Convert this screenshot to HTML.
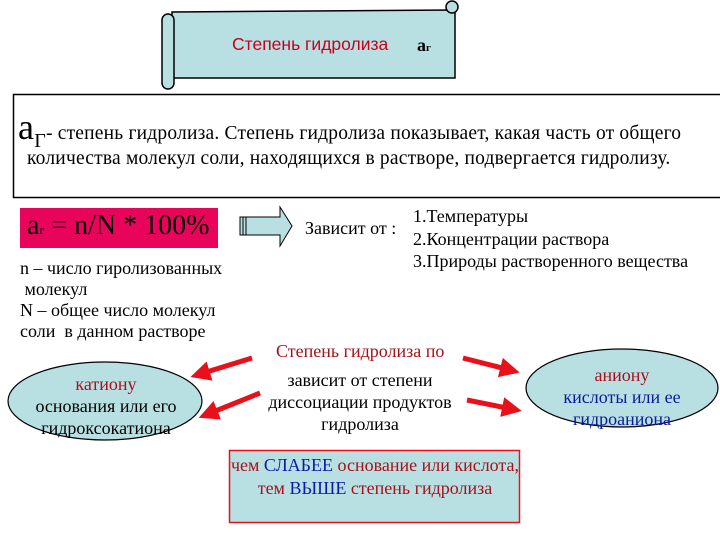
<!DOCTYPE html>
<html><head><meta charset="utf-8"><style>
body{margin:0;width:720px;height:540px;background:#fff;position:relative;overflow:hidden;font-family:"Liberation Serif","DejaVu Serif",serif;}
.t{position:absolute;white-space:nowrap;font-family:"Liberation Serif","DejaVu Serif",serif;}
svg{position:absolute;left:0;top:0;}
</style></head><body>
<svg width="720" height="540">
<defs><marker id="ah" markerWidth="4" markerHeight="4" refX="2" refY="2" orient="auto" markerUnits="strokeWidth"><path d="M0,0 L4,2 L0,4 z" fill="#e8101a"/></marker></defs>
<path d="M172,12 L455,10 L455,78 L172,78 z" fill="#b8dfe2" stroke="#000" stroke-width="1.5"/>
<rect x="162" y="14" width="12" height="75" rx="6" fill="#b8dfe2" stroke="#000" stroke-width="1.5"/>
<circle cx="452" cy="7" r="6" fill="#b8dfe2" stroke="#000" stroke-width="1.5"/>
<rect x="13.5" y="94.5" width="720" height="103" fill="#fff" stroke="#000" stroke-width="1.5"/>
<rect x="20" y="208" width="198" height="40" fill="#e8045a"/>
<path d="M240,217 L280,217 L280,207 L292,226 L280,246 L280,235 L240,235 z" fill="#b8dfe2" stroke="#000" stroke-width="1"/>
<line x1="243" y1="217" x2="243" y2="235" stroke="#000"/><line x1="246" y1="217" x2="246" y2="235" stroke="#000"/>
<ellipse cx="105" cy="401" rx="97" ry="39" fill="#b8dfe2" stroke="#000" stroke-width="1.2"/>
<ellipse cx="622" cy="388" rx="96" ry="39" fill="#b8dfe2" stroke="#000" stroke-width="1.2"/>
<rect x="229.5" y="450.5" width="290" height="72" fill="#b8dfe2" stroke="#e8101a" stroke-width="1.5"/>
<g stroke="#e8101a" stroke-width="5" marker-end="url(#ah)">
<line x1="252" y1="358" x2="200" y2="374"/>
<line x1="260" y1="393" x2="208" y2="414"/>
<line x1="463" y1="358" x2="510" y2="370"/>
<line x1="467" y1="400" x2="512" y2="409"/>
</g>
</svg>
<div class="t" style="left:232px;top:34px;font-family:'Liberation Sans',sans-serif;font-size:17.5px;color:#c8001a;">Степень гидролиза</div>
<div class="t" style="left:417px;top:35px;font-size:18px;font-weight:bold;">а<span style="font-size:11px">г</span></div>
<div class="t" style="left:18px;top:106px;font-size:19.5px;letter-spacing:0.2px;"><span style="font-size:36px">а</span><span style="font-size:20px;position:relative;top:8px">Г</span>- степень гидролиза. Степень гидролиза показывает, какая часть от общего</div>
<div class="t" style="left:27px;top:148px;font-size:19.5px;letter-spacing:0.2px;">количества молекул соли, находящихся в растворе, подвергается гидролизу.</div>
<div class="t" style="left:27px;top:210px;font-size:28px;">а<span style="font-size:12px">г</span> = n/N * 100%</div>
<div class="t" style="left:20px;top:258px;font-size:18px;line-height:21px;">n – число гиролизованных<br>&nbsp;молекул<br>N – общее число молекул<br>соли&nbsp; в данном растворе</div>
<div class="t" style="left:305px;top:218px;font-size:18px;">Зависит от :</div>
<div class="t" style="left:413px;top:205px;font-size:18px;line-height:22.5px;">1.Температуры<br>2.Концентрации раствора<br>3.Природы растворенного вещества</div>
<div class="t" style="left:276px;top:341px;font-size:18px;color:#a8101a;">Степень гидролиза по</div>
<div class="t" style="left:240px;top:369px;width:240px;text-align:center;font-size:18px;line-height:22px;">зависит от степени<br>диссоциации продуктов<br>гидролиза</div>
<div class="t" style="left:6px;top:373px;width:200px;text-align:center;font-size:18px;line-height:22px;"><span style="color:#a8101a">катиону</span><br>основания или его<br>гидроксокатиона</div>
<div class="t" style="left:522px;top:364px;width:200px;text-align:center;font-size:18px;line-height:22px;color:#0a1a9a;"><span style="color:#a8101a">аниону</span><br>кислоты или ее<br>гидроаниона</div>
<div class="t" style="left:219px;top:454px;width:312px;text-align:center;font-size:18px;line-height:23px;color:#a8101a;">чем <span style="color:#0a1aa8">СЛАБЕЕ</span> основание или кислота,<br>тем <span style="color:#0a1aa8">ВЫШЕ</span> степень гидролиза</div>
</body></html>
